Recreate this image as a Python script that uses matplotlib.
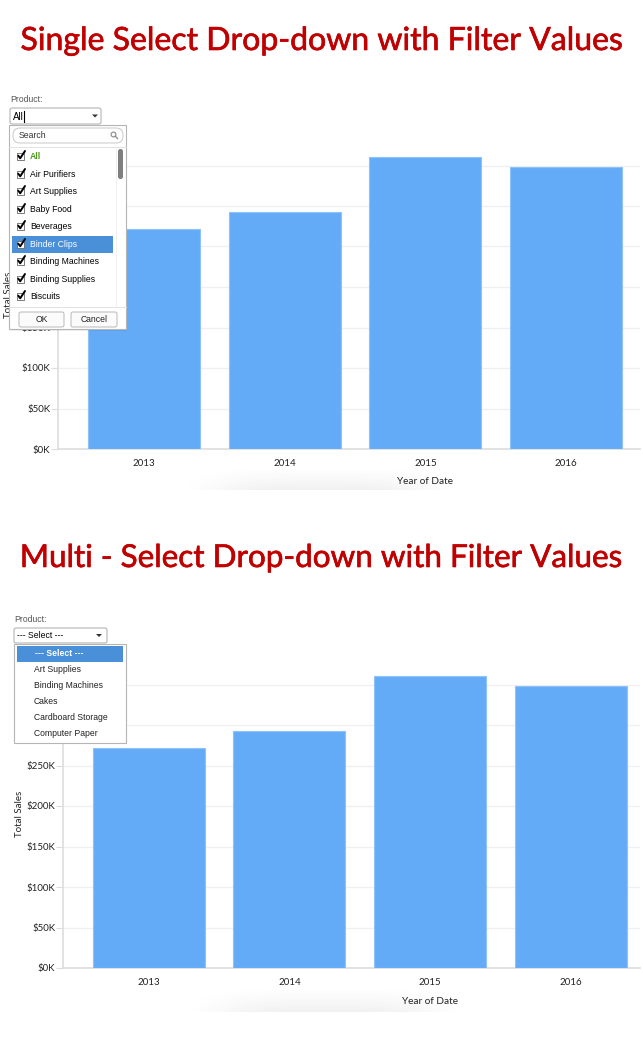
import numpy as np
import matplotlib
matplotlib.use("Agg")
import matplotlib.pyplot as plt
import matplotlib.patheffects as pe
from matplotlib.patches import Rectangle, FancyBboxPatch, Polygon, Circle

# ---------------- data ----------------
years = ["2013", "2014", "2015", "2016"]
total_sales = [271000, 293000, 361000, 348000]
yticks = [0, 50000, 100000, 150000, 200000, 250000, 300000, 350000]
ytick_labels = ["$0K", "$50K", "$100K", "$150K", "$200K", "$250K", "$300K", "$350K"]
title_top = "Single Select Drop-down with Filter Values"
title_bottom = "Multi - Select Drop-down with Filter Values"
single_items = ["All", "Air Purifiers", "Art Supplies", "Baby Food", "Beverages",
                "Binder Clips", "Binding Machines", "Binding Supplies", "Biscuits"]
multi_items = ["--- Select ---", "Art Supplies", "Binding Machines", "Cakes",
               "Cardboard Storage", "Computer Paper"]

W, H = 643, 1040
plt.rcParams['font.family'] = ['Lato', 'DejaVu Sans']
fig = plt.figure(figsize=(W / 100, H / 100), dpi=100)
fig.patch.set_facecolor("white")

BAR = "#64abf7"
RED = "#c00000"
TXT = "#222222"


def px_rect(x0, y0, x1, y1):
    return [x0 / W, 1 - y1 / H, (x1 - x0) / W, (y1 - y0) / H]


def make_chart(x0, x1, ytop, y0, first_center, spacing, hidden_labels, lpad):
    ax = fig.add_axes(px_rect(x0, ytop, x1, y0))
    scale = spacing
    left = -((first_center - x0) / scale)
    right = left + (x1 - x0) / scale
    ax.bar(range(len(years)), total_sales, width=112 / scale, color=BAR,
           edgecolor="#8dc2fa", linewidth=0.8, zorder=3)
    ax.set_xlim(left, right)
    ax.set_ylim(0, (y0 - ytop) / 0.81 * 1000)
    ax.set_yticks(yticks)
    ax.set_yticklabels(ytick_labels, fontsize=7, color=TXT)
    # labels that sit fully under the drop-down panel are not visible
    for lab in ax.get_yticklabels():
        if lab.get_text() in hidden_labels:
            lab.set_visible(False)
    ax.set_xticks(range(len(years)))
    ax.set_xticklabels(years, fontsize=7, color=TXT)
    ax.tick_params(axis="x", length=0, pad=7)
    ax.tick_params(axis="y", length=5, width=0.8, color="#dddddd", pad=0.5)
    ax.grid(axis="y", color="#f0f0f0", linewidth=1, zorder=0)
    for s in ["top", "right"]:
        ax.spines[s].set_visible(False)
    for s in ["left", "bottom"]:
        ax.spines[s].set_color("#dddddd")
        ax.spines[s].set_linewidth(1.2)
    ax.set_ylabel("Total Sales", fontsize=7, color=TXT, labelpad=lpad)
    ax.set_facecolor("none")
    return ax


ax1 = make_chart(58, 640, 140, 449, 144, 140.7, ["$200K", "$250K", "$300K", "$350K"], 6)
ax2 = make_chart(63, 640, 660, 968, 149, 140.5, ["$300K", "$350K"], 2)

# ---------------- overlay ----------------
ov = fig.add_axes([0, 0, 1, 1], zorder=10)
ov.axis("off")
ov.patch.set_alpha(0)


def shadow(xa, xb, ya, yb):
    nx, ny = 240, 40
    xs = np.linspace(-1, 1, nx)
    ys = np.linspace(0, 1, ny)
    gx = np.exp(-((xs + 0.1) / 0.7) ** 4)
    gy = ys ** 1.3
    a = np.outer(gy, gx) * 0.07
    img = np.zeros((ny, nx, 4))
    img[..., :3] = 0.2
    img[..., 3] = a
    ov.imshow(img, extent=(xa, xb, yb, ya), aspect="auto", zorder=0,
              interpolation="bilinear")


shadow(185, 485, 466, 490)
shadow(190, 490, 986, 1012)

ov.set_xlim(0, W)
ov.set_ylim(H, 0)

ov.text(425, 482, "Year of Date", fontsize=7.2, color=TXT, ha="center", va="center")
ov.text(430, 1001, "Year of Date", fontsize=7.2, color=TXT, ha="center", va="center")

# titles, fitted to width
renderer = fig.canvas.get_renderer()
for t_str, ycen in [(title_top, 41), (title_bottom, 558)]:
    t = ov.text(322, ycen, t_str, fontsize=21, color=RED, ha="center",
                va="center", fontweight="normal")
    bb = t.get_window_extent(renderer=renderer)
    t.set_fontsize(21 * 603 / bb.width)
    t.set_path_effects([pe.withStroke(linewidth=0.45, foreground=RED)])

UI = ['Liberation Sans', 'DejaVu Sans']
FS = 6.2


def checkbox(x, y):
    ov.add_patch(Rectangle((x, y - 3.5), 7, 7, facecolor="white",
                           edgecolor="#666666", linewidth=0.6, zorder=12))
    ov.plot([x + 1.3, x + 3.2, x + 8.0], [y - 0.3, y + 2.3, y - 5.0],
            color="black", linewidth=1.4, zorder=13, solid_capstyle="round")


def caret(x, y):
    ov.add_patch(Polygon([[x - 3, y - 1.5], [x + 3, y - 1.5], [x, y + 1.5]],
                         closed=True, facecolor="#333333", edgecolor="none", zorder=12))


# ---- single select dropdown ----
ov.text(10, 99, "Product:", fontsize=FS, color="#555555", va="center", family=UI)
ov.add_patch(FancyBboxPatch((10, 108), 91, 16, boxstyle="round,pad=0,rounding_size=2",
                            facecolor="white", edgecolor="#aaaaaa", linewidth=0.7, zorder=11))
ov.text(13, 116.5, "All", fontsize=7, color="black", va="center", family=UI, zorder=12)
ov.plot([23.5, 23.5], [111, 122], color="black", linewidth=0.8, zorder=12)
caret(95, 116)

ov.add_patch(Rectangle((10, 126), 117, 205, facecolor="#00000010", edgecolor="none", zorder=10.5))
ov.add_patch(Rectangle((9, 125), 117, 204, facecolor="white", edgecolor="#b5b5b5",
                       linewidth=0.8, zorder=11))
ov.add_patch(FancyBboxPatch((13, 128), 110, 15, boxstyle="round,pad=0,rounding_size=7",
                            facecolor="white", edgecolor="#c8c8c8", linewidth=0.7, zorder=12))
ov.text(19, 135.5, "Search", fontsize=FS, color="#333333", va="center", family=UI, zorder=13)
ov.add_patch(Circle((113.5, 134.5), 2.4, facecolor="none",
                    edgecolor="#888888", linewidth=0.8, zorder=13))
ov.plot([115.2, 117.6], [136.2, 138.6], color="#888888", linewidth=0.9, zorder=13)
ov.plot([9, 126], [147, 147], color="#e2e2e2", linewidth=0.7, zorder=12)
ov.plot([9, 126], [307, 307], color="#e2e2e2", linewidth=0.7, zorder=12)
ov.plot([115.5, 115.5], [147, 307], color="#eeeeee", linewidth=0.6, zorder=12)
ov.add_patch(FancyBboxPatch((118, 149), 5, 30, boxstyle="round,pad=0,rounding_size=2.4",
                            facecolor="#7f7f7f", edgecolor="none", zorder=12))

item_y = [156, 174, 191, 209, 226, 244, 261, 279, 296]
for name, yy in zip(single_items, item_y):
    color = "black"
    weight = "normal"
    if name == "Binder Clips":
        ov.add_patch(Rectangle((12, 235.5), 101, 17, facecolor="#4a90d9",
                               edgecolor="none", zorder=11.5))
        color = "white"
    if name == "All":
        color = "#4f9a1f"
        weight = "bold"
    checkbox(17, yy)
    ov.text(30, yy + 0.5, name, fontsize=FS, color=color, va="center",
            family=UI, fontweight=weight, zorder=13)

for (bx0, bx1, lbl) in [(19, 64, "OK"), (71, 117, "Cancel")]:
    ov.add_patch(FancyBboxPatch((bx0, 312), bx1 - bx0, 15,
                                boxstyle="round,pad=0,rounding_size=2",
                                facecolor="#fbfbfb", edgecolor="#b8b8b8",
                                linewidth=0.7, zorder=12))
    ov.text((bx0 + bx1) / 2, 320, lbl, fontsize=FS, color="#222222", ha="center",
            va="center", family=UI, zorder=13)

# ---- multi select dropdown ----
ov.text(14, 619, "Product:", fontsize=FS, color="#555555", va="center", family=UI)
ov.add_patch(FancyBboxPatch((14, 628), 93, 15, boxstyle="round,pad=0,rounding_size=2",
                            facecolor="white", edgecolor="#aaaaaa", linewidth=0.7, zorder=11))
ov.text(17, 635.5, "--- Select ---", fontsize=FS, color="black", va="center",
        family=UI, zorder=12)
caret(99, 635.5)
ov.add_patch(Rectangle((15, 645), 112, 99, facecolor="#00000010", edgecolor="none", zorder=10.5))
ov.add_patch(Rectangle((14, 644), 112, 99, facecolor="white", edgecolor="#b5b5b5",
                       linewidth=0.8, zorder=11))
multi_y = [653.5, 669, 685, 701, 717, 733]
for name, yy in zip(multi_items, multi_y):
    if name.startswith("---"):
        ov.add_patch(Rectangle((17, 646), 106, 16, facecolor="#4a90d9",
                               edgecolor="none", zorder=11.5))
        ov.text(35, yy, name, fontsize=FS, color="white", fontweight="bold",
                va="center", family=UI, zorder=13)
    else:
        ov.text(34, yy, name, fontsize=FS, color="#222222", va="center",
                family=UI, zorder=13)

fig.savefig("out.png", dpi=100, facecolor="white")
